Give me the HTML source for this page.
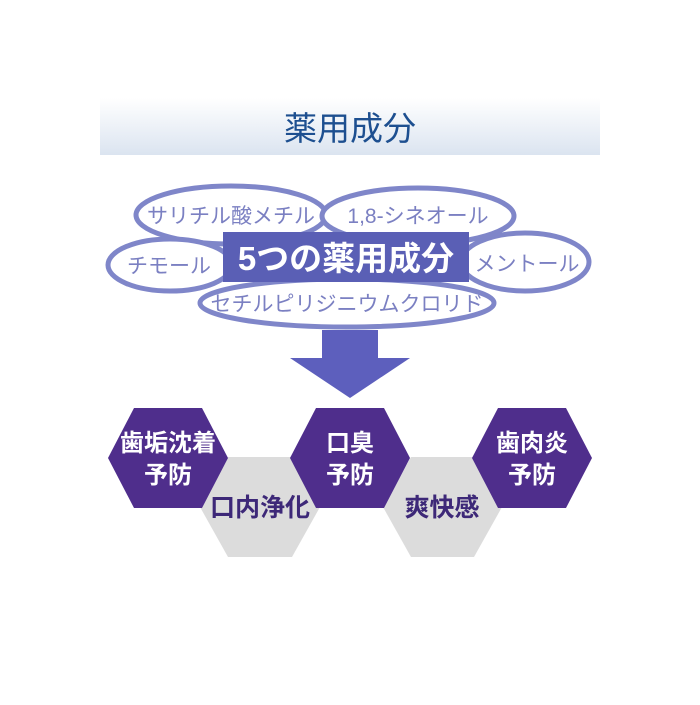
<!DOCTYPE html>
<html><head><meta charset="utf-8"><style>
body{margin:0;width:700px;height:700px;background:#fff;overflow:hidden}
svg text{font-family:"Liberation Sans","Noto Sans CJK JP",sans-serif}
</style></head><body>
<svg width="700" height="700" viewBox="0 0 700 700">
<defs><linearGradient id="g" x1="0" y1="0" x2="0" y2="1"><stop offset="0" stop-color="#ffffff"/><stop offset="1" stop-color="#dbe4f0"/></linearGradient></defs>
<rect x="100" y="98" width="500" height="57" fill="url(#g)"/>
<text x="350" y="140" font-size="33" fill="#1d4f90" text-anchor="middle">薬用成分</text>
<g fill="#fff" stroke="#7f86c9" stroke-width="5">
<ellipse cx="231" cy="215" rx="95" ry="29"/>
<ellipse cx="418" cy="216" rx="96" ry="28"/>
<ellipse cx="170" cy="265" rx="62" ry="26"/>
<ellipse cx="525" cy="262" rx="64" ry="29"/>
<ellipse cx="347" cy="303" rx="147" ry="24"/>
</g>
<g font-size="21" fill="#7b80c2" text-anchor="middle">
<text x="231" y="223">サリチル酸メチル</text>
<text x="418" y="223">1,8-シネオール</text>
<text x="169" y="273">チモール</text>
<text x="527" y="271">メントール</text>
<text x="347" y="311">セチルピリジニウムクロリド</text>
</g>
<rect x="223" y="232" width="246" height="50" fill="#5a5fb5"/>
<text x="346" y="270" font-size="33" font-weight="bold" fill="#fff" text-anchor="middle">5つの薬用成分</text>
<polygon points="322,330 378,330 378,358 410,358 350,398 290,358 322,358" fill="#5d5fbd"/>
<g fill="#dcdcdc">
<polygon points="200,507 228,457 292,457 320,507 292,557 228,557"/>
<polygon points="383,507 411,457 474,457 502,507 474,557 411,557"/>
</g>
<g fill="#4f2e8c">
<polygon points="108,458 134,408 202,408 228,458 202,508 134,508"/>
<polygon points="290,458 316,408 384,408 410,458 384,508 316,508"/>
<polygon points="472,458 498,408 566,408 592,458 566,508 498,508"/>
</g>
<g font-size="24" font-weight="bold" text-anchor="middle" fill="#fff">
<text x="168" y="451">歯垢沈着</text><text x="168" y="483">予防</text>
<text x="350" y="451">口臭</text><text x="350" y="483">予防</text>
<text x="532" y="451">歯肉炎</text><text x="532" y="483">予防</text>
</g>
<g font-size="25" font-weight="bold" text-anchor="middle" fill="#3d2878">
<text x="260" y="516">口内浄化</text>
<text x="442" y="516">爽快感</text>
</g>
</svg>
</body></html>
